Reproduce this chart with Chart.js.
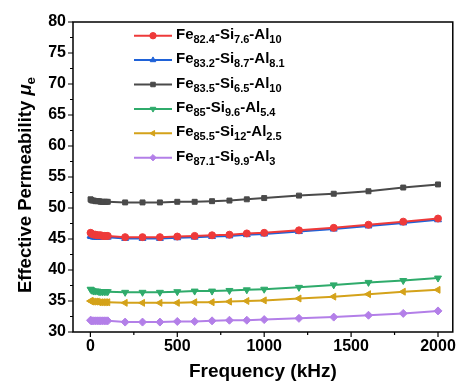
<!DOCTYPE html>
<html><head><meta charset="utf-8">
<script src="https://cdn.jsdelivr.net/npm/chart.js@4.4.0/dist/chart.umd.min.js"></script>
<style>html,body{margin:0;padding:0;background:#fff;}#wrap{width:461px;height:383px;position:relative;}</style>
</head><body><div id="wrap"><canvas id="c" width="461" height="383"></canvas></div>
<script>
const frequencies = [1,5,10,20,30,40,50,60,70,80,90,100,200,300,400,500,600,700,800,900,1000,1200,1400,1600,1800,2000];
const fe824 = [46.0,45.9,45.8,45.7,45.7,45.6,45.6,45.6,45.5,45.5,45.5,45.5,45.3,45.3,45.3,45.4,45.5,45.6,45.7,45.9,46.0,46.4,46.8,47.3,47.8,48.3];
const fe832 = [45.5,45.4,45.4,45.3,45.3,45.3,45.3,45.3,45.3,45.3,45.3,45.3,45.1,45.1,45.1,45.2,45.3,45.4,45.5,45.7,45.8,46.2,46.6,47.1,47.6,48.1];
const fe835 = [51.4,51.3,51.2,51.2,51.1,51.1,51.1,51.0,51.0,51.0,51.0,51.0,50.9,50.9,50.9,51.0,51.0,51.1,51.2,51.4,51.6,52.0,52.3,52.7,53.3,53.8];
const fe85  = [36.9,36.8,36.7,36.6,36.6,36.6,36.5,36.5,36.5,36.5,36.5,36.5,36.4,36.4,36.4,36.5,36.6,36.6,36.7,36.8,36.9,37.2,37.6,38.0,38.3,38.7];
const fe855 = [35.0,35.0,34.9,34.9,34.9,34.9,34.8,34.8,34.8,34.8,34.8,34.8,34.7,34.7,34.7,34.7,34.8,34.8,34.9,35.0,35.1,35.4,35.7,36.1,36.5,36.8];
const fe871 = [31.9,31.8,31.8,31.8,31.8,31.8,31.8,31.8,31.8,31.8,31.8,31.8,31.6,31.6,31.6,31.7,31.7,31.8,31.9,31.9,32.0,32.2,32.4,32.7,33.0,33.4];
const seriesLabels = ["Fe_{82.4}-Si_{7.6}-Al_{10}","Fe_{83.2}-Si_{8.7}-Al_{8.1}","Fe_{83.5}-Si_{6.5}-Al_{10}","Fe_{85}-Si_{9.6}-Al_{5.4}","Fe_{85.5}-Si_{12}-Al_{2.5}","Fe_{87.1}-Si_{9.9}-Al_{3}"];
const xTickLabels = [0,500,1000,1500,2000];
const yTickLabels = [30,35,40,45,50,55,60,65,70,75,80];
const xTitle = "Frequency (kHz)";
const yTitle = "Effective Permeability *{\u03bc}_{e}";

const seriesValues = [fe824, fe832, fe835, fe85, fe855, fe871];
const colors = ['#ee3a3a','#1f62d8','#4a4a4a','#2fab6b','#d4a21a','#b37fe8'];
const styles = ['circle','triangle','rect','triangle','triangle','rectRot'];
const rotations = [0,0,0,180,-90,0];
const radii = [3.5,4,3.5,4,4,4];

const FONT = '"Liberation Sans", Arial, sans-serif';

function parseRich(s){
  const parts=[]; const re=/([_*])\{([^}]*)\}/g; let last=0,m;
  while((m=re.exec(s))){ if(m.index>last) parts.push({t:s.slice(last,m.index)}); parts.push({t:m[2],sub:m[1]==='_',it:m[1]==='*'}); last=re.lastIndex; }
  if(last<s.length) parts.push({t:s.slice(last)});
  return parts;
}
function setF(ctx,p,size,subSize){ ctx.font=(p.it?'italic ':'')+'bold '+(p.sub?subSize:size)+'px '+FONT; }
function drawRich(ctx, s, x, y, size, subSize, subOff){
  let cx=x;
  for(const p of parseRich(s)){
    setF(ctx,p,size,subSize);
    ctx.fillText(p.t, cx, y+(p.sub?subOff:0));
    cx+=ctx.measureText(p.t).width;
  }
  return cx-x;
}
function richWidth(ctx,s,size,subSize){
  let w=0; for(const p of parseRich(s)){setF(ctx,p,size,subSize); w+=ctx.measureText(p.t).width;} return w;
}

const decor = {
  id:'decor',
  afterDraw(chart){
    const ctx=chart.ctx, a=chart.chartArea, xs=chart.scales.x, ys=chart.scales.y;
    ctx.save();
    ctx.strokeStyle='#000'; ctx.lineWidth=1.5;
    ctx.strokeRect(a.left,a.top,a.right-a.left,a.bottom-a.top);
    ctx.lineWidth=1.2;
    ctx.beginPath();
    for(let v=0; v<=2000; v+=250){
      const px=xs.getPixelForValue(v); const len=(v%500===0)?5:3;
      ctx.moveTo(px,a.bottom); ctx.lineTo(px,a.bottom+len);
    }
    for(let v=30; v<=80; v+=2.5){
      const py=ys.getPixelForValue(v); const len=(v%5===0)?5:3;
      ctx.moveTo(a.left,py); ctx.lineTo(a.left-len,py);
    }
    ctx.stroke();
    ctx.fillStyle='#000'; ctx.textBaseline='middle';
    ctx.translate(26,185); ctx.rotate(-Math.PI/2);
    const w=richWidth(ctx,yTitle,18.5,13.5);
    drawRich(ctx,yTitle,-w/2,0,18.5,13.5,5);
    ctx.restore();
    ctx.save();
    ctx.textBaseline='middle';
    const y0=35.7, dy=24.4;
    chart.data.datasets.forEach((ds,i)=>{
      const y=y0+i*dy;
      ctx.strokeStyle=ds.borderColor; ctx.lineWidth=2;
      ctx.beginPath(); ctx.moveTo(134,y); ctx.lineTo(172,y); ctx.stroke();
      ctx.fillStyle=ds.borderColor; ctx.strokeStyle=ds.borderColor; ctx.lineWidth=1;
      Chart.helpers.drawPoint(ctx,{pointStyle:ds.pointStyle,rotation:ds.pointRotation,radius:3.2,borderWidth:1},153,y);
      ctx.fillStyle='#000';
      drawRich(ctx,seriesLabels[i],176,y-1,15,11,5);
    });
    ctx.restore();
  }
};

new Chart(document.getElementById('c'),{
  type:'line',
  data:{datasets: seriesValues.map((vals,i)=>({
    label: seriesLabels[i].replace(/_\{|\}/g,''),
    data: frequencies.map((f,j)=>({x:f,y:vals[j]})),
    borderColor: colors[i], backgroundColor: colors[i],
    pointBackgroundColor: colors[i], pointBorderColor: colors[i],
    pointStyle: styles[i], pointRotation: rotations[i], pointRadius: radii[i], pointBorderWidth:1,
    borderWidth: 2, tension: 0
  }))},
  options:{
    responsive:false, animation:false,
    layout:{padding:{top:22,right:4,left:0,bottom:0}},
    plugins:{legend:{display:false},tooltip:{enabled:false}},
    scales:{
      x:{type:'linear',min:-100,max:2085,
        afterBuildTicks(s){s.ticks=xTickLabels.map(v=>({value:v}));},
        afterFit(s){s.height=51;},
        grid:{display:false,drawOnChartArea:false,drawTicks:false},
        border:{display:false},
        ticks:{color:'#000',font:{family:FONT,size:16,weight:'bold'},padding:5,maxRotation:0,callback:v=>String(v)},
        title:{display:true,text:xTitle,color:'#000',font:{family:FONT,size:19,weight:'bold'},padding:{top:2,bottom:0}}
      },
      y:{type:'linear',min:30,max:80,
        afterBuildTicks(s){s.ticks=yTickLabels.map(v=>({value:v}));},
        afterFit(s){s.width=73;},
        grid:{display:false,drawOnChartArea:false,drawTicks:false},
        border:{display:false},
        ticks:{color:'#000',font:{family:FONT,size:16,weight:'bold'},padding:7,callback:v=>String(v)}
      }
    }
  },
  plugins:[decor]
});
</script></body></html>
